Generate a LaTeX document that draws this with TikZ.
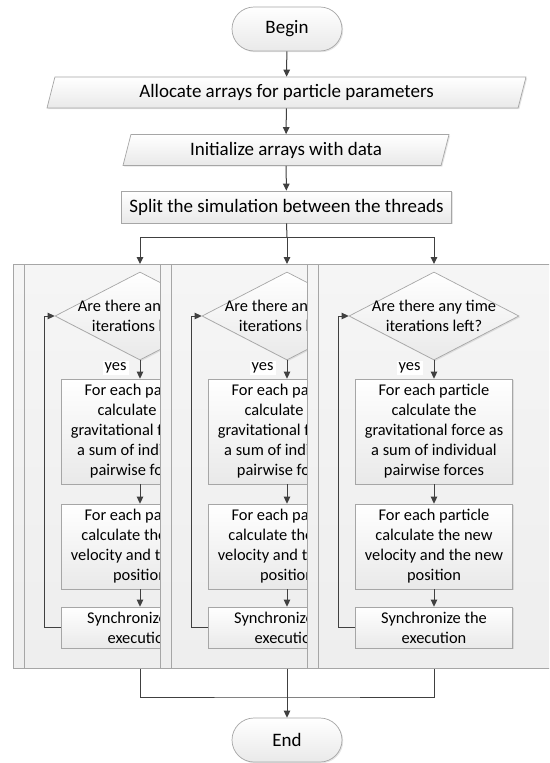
\documentclass[tikz,border=0pt]{standalone}
\usepackage{fontspec}
\setmainfont{Carlito}
\usetikzlibrary{shapes.geometric,arrows.meta,shadows}

\definecolor{linegray}{HTML}{404040}
\definecolor{edgegray}{HTML}{A6A6A6}
\definecolor{lanetop}{HTML}{F5F5F5}
\definecolor{lanebottom}{HTML}{EEEEEE}
\definecolor{shapebottom}{HTML}{E9E9E9}

\tikzset{
  flow/.style={draw=linegray, line width=1pt, -{Triangle[length=7pt,width=6.5pt]}},
  link/.style={draw=linegray, line width=1pt},
  bigtext/.style={font=\fontsize{19}{20}\selectfont},
  smalltext/.style={font=\fontsize{16.4}{20}\selectfont},
  shapebase/.style={draw=edgegray, line width=0.7pt, top color=white, bottom color=shapebottom,
    drop shadow={shadow xshift=1.2pt, shadow yshift=-1.2pt, opacity=0.2}},
  terminal/.style={shapebase, bigtext, rectangle, rounded corners=22pt,
    minimum width=110pt, minimum height=44pt, inner sep=0pt},
  io/.style={shapebase, bigtext, trapezium, trapezium left angle=64, trapezium right angle=116,
    trapezium stretches body, minimum height=31pt, inner sep=0pt},
  process/.style={shapebase, rectangle, minimum width=157pt, inner sep=0pt, align=center},
  decision/.style={shapebase, diamond, minimum width=170pt, minimum height=88pt, inner sep=0pt},
  lane/.style={rectangle, draw=edgegray, line width=0.7pt, top color=lanetop, bottom color=lanebottom,
    minimum width=244pt, minimum height=404pt, inner sep=0pt},
  yeslabel/.style={smalltext, fill=white, inner sep=2pt},
}

\begin{document}
\begin{tikzpicture}[x=1pt, y=-1pt]
  \clip (0,0) rectangle (549,763);
  \fill[white] (0,0) rectangle (549,763);

  % main sequence
  \node[terminal] (begin) at (287,29) {Begin};
  \node[io, minimum width=479pt] (alloc) at (286.5,92.5) {Allocate arrays for particle parameters};
  \node[io, minimum width=326pt] (init) at (286,150) {Initialize arrays with data};
  \node[shapebase, bigtext, rectangle, minimum width=330pt, minimum height=32pt, inner sep=0pt]
    (split) at (286.5,207) {Split the simulation between the threads};

  \draw[flow] (begin) -- (alloc);
  \draw[flow] (alloc) -- (init);
  \draw[flow] (init) -- (split);

  % one swimlane per thread
  \foreach \k/\L in {1/13, 2/160, 3/307} {
    \pgfmathsetmacro{\c}{\L+127}
    \node[lane, anchor=north west] (lane\k) at (\L,264) {};
    \draw[edgegray, line width=0.7pt] ([xshift=11pt]lane\k.north west) -- ([xshift=11pt]lane\k.south west);
    \node[decision] (d\k) at (\c,316) {};
    \node[smalltext, align=center] (q\k) at (d\k) {Are there any time\\iterations left?};
    \node[process, smalltext, minimum height=105pt] (a\k) at (\c,431.5)
      {For each particle\\calculate the\\gravitational force as\\a sum of individual\\pairwise forces};
    \node[process, smalltext, minimum height=85pt] (b\k) at (\c,546.5)
      {For each particle\\calculate the new\\velocity and the new\\position};
    \node[process, smalltext, minimum height=41pt] (s\k) at (\c,627.5)
      {Synchronize the\\execution};
    \draw[flow] (d\k.south) -- (a\k.north)
      node[midway, left=11pt, yeslabel, yshift=1.5pt] (y\k) {yes};
    \draw[flow] (a\k) -- (b\k);
    \draw[flow] (b\k) -- (s\k);
    \draw[flow] (s\k.west) -- ++(-16.5,0) |- (d\k.west);
  }

  % fork into the threads
  \coordinate (fork) at (287,237);
  \draw[link] (split.south) -- (fork);
  \draw[flow] (fork) -| (d1 |- lane1.north);
  \draw[flow] (fork) -| (d3 |- lane3.north);
  \draw[flow] (fork) -- (d2 |- lane2.north);

  % join after the threads
  \node[terminal] (end) at (287,740) {End};
  \coordinate (join) at (287,697);
  \draw[link] (d1 |- lane1.south) |- (join) -| (d3 |- lane3.south);
  \draw[flow] (d2 |- lane2.south) -- (end);
\end{tikzpicture}
\end{document}
